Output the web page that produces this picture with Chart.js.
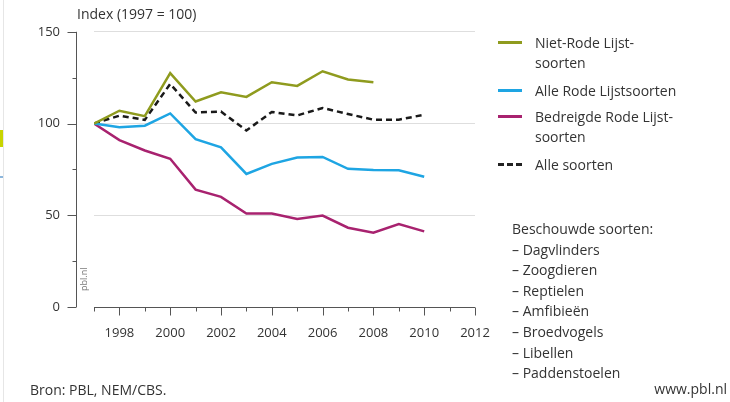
<!DOCTYPE html>
<html>
<head>
<meta charset="utf-8">
<script src="https://cdn.jsdelivr.net/npm/chart.js@4/dist/chart.umd.min.js"></script>
<style>
  html, body { margin: 0; padding: 0; background: #fff; }
  body { width: 730px; height: 402px; position: relative; overflow: hidden;
         font-family: "Open Sans", sans-serif; color: #333; }
  #chart { position: absolute; left: 0; top: -10px; }
  .txt { position: absolute; font-size: 14px; line-height: 20px; white-space: nowrap; }
  .key { position: absolute; width: 24px; height: 3px; }
  .edge { position: absolute; left: 3px; top: 0; width: 1px; height: 402px; background: #e6e6e6; }
</style>
</head>
<body>
<div class="edge"></div>
<div style="position:absolute;left:0;top:130px;width:3px;height:17px;background:#c8d400"></div>
<div style="position:absolute;left:0;top:176px;width:3px;height:2px;background:#8cb6dc"></div>

<canvas id="chart" width="730" height="412"></canvas>

<div class="txt" style="left:77px;top:4px">Index (1997 = 100)</div>
<div class="txt" style="left:79px;top:291px;font-size:9px;line-height:10px;color:#777;transform:rotate(-90deg);transform-origin:0 0">pbl.nl</div>

<div id="legend"></div>

<div class="txt" style="left:512px;top:219px;line-height:20.6px">
  Beschouwde soorten:<br>
  <span id="species"></span>
</div>

<div class="txt" style="left:30px;top:380px">Bron: PBL, NEM/CBS.</div>
<div class="txt" style="right:3px;top:379px">www.pbl.nl</div>

<script>
// Data (index, 1997 = 100)
const years = [1997, 1998, 1999, 2000, 2001, 2002, 2003, 2004, 2005, 2006, 2007, 2008, 2009, 2010];
const nietRodeLijst = [100, 107, 104, 127.5, 112, 117, 114.5, 122.5, 120.5, 128.5, 124, 122.5];
const alleRodeLijst = [100, 98, 98.8, 105.5, 91.5, 87, 72.5, 78, 81.5, 81.8, 75.3, 74.7, 74.5, 71];
const bedreigdRodeLijst = [100, 91, 85.3, 80.8, 64, 60, 51, 51, 48, 49.8, 43.2, 40.5, 45.2, 41.2];
const alleSoorten = [100, 104.3, 102, 121.6, 106, 106.5, 96.2, 106.3, 104.4, 108.5, 105.2, 102.1, 102.1, 104.8];

const yTicks = [0, 50, 100, 150];
const xTickYears = [1998, 2000, 2002, 2004, 2006, 2008, 2010, 2012];
const speciesList = ['Dagvlinders', 'Zoogdieren', 'Reptielen', 'Amfibieën', 'Broedvogels', 'Libellen', 'Paddenstoelen'];

const series = [
  { label: 'Niet-Rode Lijst-\nsoorten', data: nietRodeLijst, color: '#8f9b1e', dash: [] },
  { label: 'Alle Rode Lijstsoorten', data: alleRodeLijst, color: '#1ea5e3', dash: [] },
  { label: 'Bedreigde Rode Lijst-\nsoorten', data: bedreigdRodeLijst, color: '#a8226f', dash: [] },
  { label: 'Alle soorten', data: alleSoorten, color: '#1a1a1a', dash: [6, 4] }
];

// HTML legend
const legendTops = [33, 81, 107, 155];
const legend = document.getElementById('legend');
series.forEach((s, i) => {
  const key = document.createElement('div');
  key.className = 'key';
  key.style.left = '498px';
  key.style.top = (legendTops[i] + 8) + 'px';
  key.style.background = s.dash.length
    ? 'repeating-linear-gradient(to right, #222 0 6px, transparent 6px 9px)'
    : s.color;
  legend.appendChild(key);
  const t = document.createElement('div');
  t.className = 'txt';
  t.style.left = '535px';
  t.style.top = legendTops[i] + 'px';
  t.innerHTML = s.label.replace('\n', '<br>');
  legend.appendChild(t);
});

document.getElementById('species').innerHTML = speciesList.map(n => '– ' + n).join('<br>');

// Axis lines and tick marks drawn in the PBL style
const axesPlugin = {
  id: 'pblAxes',
  afterDraw(chart) {
    const ctx = chart.ctx;
    const xs = chart.scales.x, ys = chart.scales.y;
    const axisX = 76;
    ctx.save();
    ctx.strokeStyle = '#555';
    ctx.lineWidth = 1;
    ctx.beginPath();
    ctx.moveTo(axisX + 0.5, ys.getPixelForValue(150));
    ctx.lineTo(axisX + 0.5, ys.getPixelForValue(0));
    for (let v = 0; v <= 150; v += 25) {
      const py = Math.round(ys.getPixelForValue(v)) + 0.5;
      const len = yTicks.includes(v) ? 9 : 4;
      ctx.moveTo(axisX + 0.5, py);
      ctx.lineTo(axisX + 0.5 - len, py);
    }
    const by = Math.round(ys.getPixelForValue(0)) + 0.5;
    ctx.moveTo(xs.getPixelForValue(1997), by);
    ctx.lineTo(xs.getPixelForValue(2012), by);
    for (let yr = 1997; yr <= 2012; yr++) {
      const px = Math.round(xs.getPixelForValue(yr)) + 0.5;
      const len = xTickYears.includes(yr) ? 8 : 4;
      ctx.moveTo(px, by);
      ctx.lineTo(px, by + len);
    }
    ctx.stroke();
    ctx.restore();
  }
};

const ctx = document.getElementById('chart').getContext('2d');
new Chart(ctx, {
  type: 'line',
  data: {
    datasets: series.map(s => ({
      label: s.label,
      data: s.data.map((v, i) => ({ x: years[i], y: v })),
      borderColor: s.color,
      borderWidth: 2.5,
      borderDash: s.dash,
      pointRadius: 0,
      tension: 0,
      fill: false
    }))
  },
  options: {
    responsive: false,
    animation: false,
    events: [],
    layout: { padding: { left: 0, top: 0, right: 255, bottom: 0 } },
    plugins: { legend: { display: false }, tooltip: { enabled: false } },
    scales: {
      x: {
        type: 'linear',
        min: 1997,
        max: 2012,
        afterFit(scale) { scale.height = 95; },
        border: { display: false },
        grid: { display: false, drawTicks: false },
        ticks: {
          stepSize: 1,
          autoSkip: false,
          maxRotation: 0,
          padding: 18,
          color: '#333',
          font: { family: 'Open Sans', size: 13 },
          callback: v => xTickYears.includes(v) ? String(v) : ''
        }
      },
      y: {
        min: 0,
        max: 150,
        afterFit(scale) { scale.width = 94; },
        border: { display: false },
        grid: {
          drawTicks: false,
          color: c => (c.tick && c.tick.value > 0 && yTicks.includes(c.tick.value)) ? '#dedede' : 'rgba(0,0,0,0)'
        },
        ticks: {
          stepSize: 25,
          padding: 34,
          color: '#333',
          font: { family: 'Open Sans', size: 13 },
          callback: v => yTicks.includes(v) ? String(v) : ''
        }
      }
    }
  },
  plugins: [axesPlugin]
});
</script>
</body>
</html>
